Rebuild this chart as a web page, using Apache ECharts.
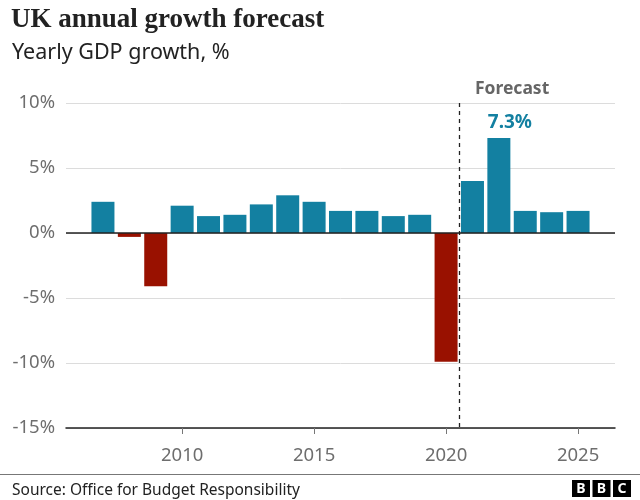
<!DOCTYPE html>
<html>
<head>
<meta charset="utf-8">
<script src="https://cdn.jsdelivr.net/npm/echarts@6/dist/echarts.min.js"></script>
<style>html,body{margin:0;padding:0;background:#fff}#c{width:640px;height:500px}</style>
</head>
<body>
<div id="c"></div>
<script>
var years = [2007, 2008, 2009, 2010, 2011, 2012, 2013, 2014, 2015, 2016, 2017, 2018, 2019, 2020, 2021, 2022, 2023, 2024, 2025];
var growth = [2.4, -0.3, -4.1, 2.1, 1.3, 1.4, 2.2, 2.9, 2.4, 1.7, 1.7, 1.3, 1.4, -9.9, 4.0, 7.3, 1.7, 1.6, 1.7];
var xTickYears = [2010, 2015, 2020, 2025];
var yTicks = [-15, -10, -5, 0, 5, 10];
var forecastBoundary = 2020.5;
var labelledYear = 2022;

var TEAL = '#1380A1', RED = '#991100';
var SANS = '"Noto Sans", "Open Sans", sans-serif';

var chart = echarts.init(document.getElementById('c'), null, {renderer: 'canvas'});

var barData = years.map(function (y, i) {
  var v = growth[i];
  var item = {value: [y, v], itemStyle: {color: v < 0 ? RED : TEAL}};
  if (y === labelledYear) {
    item.label = {
      show: true, position: 'top', formatter: v.toFixed(1) + '%',
      color: TEAL, fontWeight: 'bold', fontSize: 19, fontFamily: SANS, offset: [11, -1]
    };
  }
  return item;
});

var option = {
  animation: false,
  backgroundColor: '#fff',
  title: [
    {text: 'UK annual growth forecast', left: 6, top: 2,
     textStyle: {fontFamily: '"Liberation Serif", serif', fontWeight: 'bold', fontSize: 27, color: '#222'}},
    {text: 'Yearly GDP growth, %', left: 7, top: 37,
     textStyle: {fontFamily: SANS, fontWeight: 'normal', fontSize: 21.5, color: '#222'}},
    {text: 'Source: Office for Budget Responsibility', left: 7, top: 478,
     textStyle: {fontFamily: SANS, fontWeight: 'normal', fontSize: 15.5, color: '#222'}}
  ],
  grid: {left: 66, right: 25, top: 103, bottom: 72, containLabel: false},
  xAxis: {
    type: 'value', min: 2005.6, max: 2026.4,
    axisLine: {show: true, onZero: false, lineStyle: {color: '#222', width: 1.5}},
    axisTick: {show: true, customValues: xTickYears, length: 6, lineStyle: {color: '#777'}},
    axisLabel: {customValues: xTickYears, formatter: function (v) { return String(v); },
                color: '#6e6e6e', fontSize: 18.5, fontFamily: SANS, margin: 18},
    splitLine: {show: false}
  },
  yAxis: {
    type: 'value', min: -15, max: 10, interval: 5,
    axisLine: {show: false}, axisTick: {show: false},
    axisLabel: {formatter: '{value}%', color: '#6e6e6e', fontSize: 18.5, fontFamily: SANS, margin: 11},
    splitLine: {lineStyle: {color: '#dcdcdc', width: 1}}
  },
  series: [{
    type: 'bar',
    data: barData,
    barWidth: 23,
    markLine: {
      silent: true, symbol: 'none', animation: false,
      label: {show: false},
      data: [
        [{coord: [2005.6, 0], lineStyle: {color: '#222', width: 1.5, type: 'solid'}}, {coord: [2026.4, 0]}],
        [{coord: [forecastBoundary, 10], lineStyle: {color: '#222', width: 1.3, type: [4, 4]}}, {coord: [forecastBoundary, -15]}]
      ]
    },
    markPoint: {
      silent: true, symbol: 'circle', symbolSize: 0,
      data: [{coord: [2022.5, 10], label: {show: true, formatter: 'Forecast', color: '#666', fontWeight: 'bold', fontSize: 17.5, fontFamily: SANS, offset: [0, -14]}}]
    }
  }],
  graphic: [
    {type: 'line', shape: {x1: 0, y1: 474.5, x2: 640, y2: 474.5}, style: {stroke: '#777', lineWidth: 1}},
    {type: 'group', left: 572, top: 480, children: [
      {type: 'rect', shape: {x: 0, y: 0, width: 18, height: 17}, style: {fill: '#000'}},
      {type: 'text', x: 9, y: 9, style: {text: 'B', fill: '#fff', font: 'bold 14px "Noto Sans"', align: 'center', verticalAlign: 'middle'}},
      {type: 'rect', shape: {x: 20.5, y: 0, width: 18, height: 17}, style: {fill: '#000'}},
      {type: 'text', x: 29.5, y: 9, style: {text: 'B', fill: '#fff', font: 'bold 14px "Noto Sans"', align: 'center', verticalAlign: 'middle'}},
      {type: 'rect', shape: {x: 41, y: 0, width: 18, height: 17}, style: {fill: '#000'}},
      {type: 'text', x: 50, y: 9, style: {text: 'C', fill: '#fff', font: 'bold 14px "Noto Sans"', align: 'center', verticalAlign: 'middle'}}
    ]}
  ]
};
chart.setOption(option);
</script>
</body>
</html>
